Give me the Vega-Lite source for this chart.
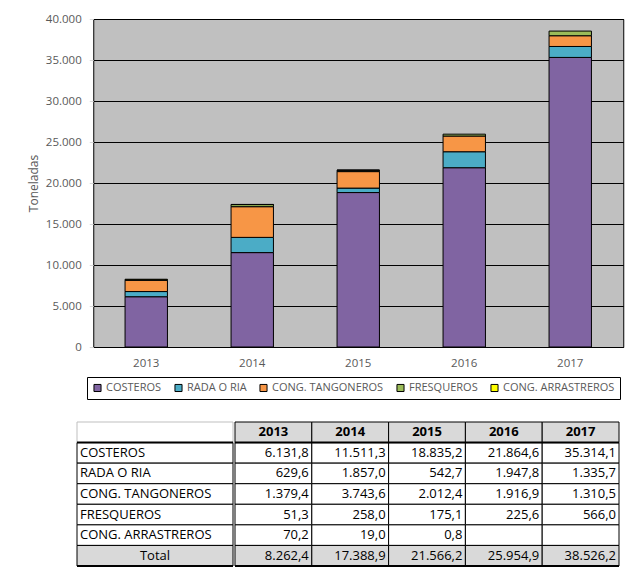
{
  "$schema": "https://vega.github.io/schema/vega-lite/v6.json",
  "background": "white",
  "padding": {"left": 26, "top": 12, "right": 0, "bottom": 0},
  "spacing": 52,
  "center": true,
  "config": {
    "font": "Open Sans",
    "locale": {"number": {"decimal": ",", "thousands": ".", "grouping": [3], "currency": ["", " €"]}},
    "axis": {"labelFont": "Open Sans", "titleFont": "Open Sans"},
    "legend": {"labelFont": "Open Sans"}
  },
  "datasets": {
    "datos": [
      {"anio": 2013, "grupo": "COSTEROS", "t": 6131.8},
      {"anio": 2013, "grupo": "RADA O RIA", "t": 629.6},
      {"anio": 2013, "grupo": "CONG. TANGONEROS", "t": 1379.4},
      {"anio": 2013, "grupo": "FRESQUEROS", "t": 51.3},
      {"anio": 2013, "grupo": "CONG. ARRASTREROS", "t": 70.2},
      {"anio": 2014, "grupo": "COSTEROS", "t": 11511.3},
      {"anio": 2014, "grupo": "RADA O RIA", "t": 1857.0},
      {"anio": 2014, "grupo": "CONG. TANGONEROS", "t": 3743.6},
      {"anio": 2014, "grupo": "FRESQUEROS", "t": 258.0},
      {"anio": 2014, "grupo": "CONG. ARRASTREROS", "t": 19.0},
      {"anio": 2015, "grupo": "COSTEROS", "t": 18835.2},
      {"anio": 2015, "grupo": "RADA O RIA", "t": 542.7},
      {"anio": 2015, "grupo": "CONG. TANGONEROS", "t": 2012.4},
      {"anio": 2015, "grupo": "FRESQUEROS", "t": 175.1},
      {"anio": 2015, "grupo": "CONG. ARRASTREROS", "t": 0.8},
      {"anio": 2016, "grupo": "COSTEROS", "t": 21864.6},
      {"anio": 2016, "grupo": "RADA O RIA", "t": 1947.8},
      {"anio": 2016, "grupo": "CONG. TANGONEROS", "t": 1916.9},
      {"anio": 2016, "grupo": "FRESQUEROS", "t": 225.6},
      {"anio": 2016, "grupo": "CONG. ARRASTREROS", "t": null},
      {"anio": 2017, "grupo": "COSTEROS", "t": 35314.1},
      {"anio": 2017, "grupo": "RADA O RIA", "t": 1335.7},
      {"anio": 2017, "grupo": "CONG. TANGONEROS", "t": 1310.5},
      {"anio": 2017, "grupo": "FRESQUEROS", "t": 566.0},
      {"anio": 2017, "grupo": "CONG. ARRASTREROS", "t": null}
    ],
    "totales": [
      {"anio": 2013, "t": 8262.4},
      {"anio": 2014, "t": 17388.9},
      {"anio": 2015, "t": 21566.2},
      {"anio": 2016, "t": 25954.9},
      {"anio": 2017, "t": 38526.2}
    ]
  },
  "vconcat": [
    {
      "width": 530,
      "height": 328,
      "data": {"name": "datos"},
      "transform": [
        {"filter": "datum.t != null"},
        {"calculate": "indexof(['COSTEROS','RADA O RIA','CONG. TANGONEROS','FRESQUEROS','CONG. ARRASTREROS'], datum.grupo)", "as": "orden"}
      ],
      "view": {"fill": "#C0C0C0", "stroke": "black", "strokeWidth": 1},
      "mark": {"type": "bar", "stroke": "black", "strokeWidth": 1},
      "encoding": {
        "x": {
          "field": "anio", "type": "ordinal",
          "scale": {"paddingInner": 0.6, "paddingOuter": 0.3},
          "axis": {"title": null, "labelAngle": 0, "ticks": false, "domain": false, "labelPadding": 10, "labelFontSize": 11.5, "labelColor": "#595959"}
        },
        "y": {
          "field": "t", "type": "quantitative", "stack": "zero",
          "scale": {"domain": [0, 40000], "nice": false},
          "axis": {
            "title": "Toneladas", "titleFontSize": 12, "titleFontWeight": "normal", "titleColor": "#595959", "titlePadding": 5,
            "format": ",d", "values": [0, 5000, 10000, 15000, 20000, 25000, 30000, 35000, 40000],
            "grid": true, "gridColor": "black", "gridWidth": 1, "domain": false,
            "tickSize": 4, "tickColor": "#d9d9d9", "labelPadding": 8, "labelFontSize": 11.5, "labelColor": "#595959"
          }
        },
        "color": {
          "field": "grupo", "type": "nominal",
          "scale": {
            "domain": ["COSTEROS", "RADA O RIA", "CONG. TANGONEROS", "FRESQUEROS", "CONG. ARRASTREROS"],
            "range": ["#8064A2", "#4BACC6", "#F79646", "#9BBB59", "#FFFF00"]
          },
          "legend": {
            "title": null, "orient": "none", "legendX": 10, "legendY": 358, "direction": "horizontal", "columns": 5,
            "symbolType": "square", "symbolSize": 50, "symbolStrokeColor": "black", "symbolStrokeWidth": 1,
            "labelFontSize": 11, "labelColor": "#595959", "labelOffset": 3, "columnPadding": 10,
            "strokeColor": "black", "padding": 5, "fillColor": "white"
          }
        },
        "order": {"field": "orden", "type": "quantitative"}
      }
    },
    {
      "spacing": 0,
      "hconcat": [
        {
          "width": 156,
          "height": 144,
          "view": {"stroke": null},
          "layer": [
            {
              "data": {"name": "datos"},
              "transform": [{"aggregate": [{"op": "count", "as": "n"}], "groupby": ["grupo"]}],
              "mark": {"type": "rect", "fill": "white", "stroke": "black", "strokeWidth": 1},
              "encoding": {
                "x": {"datum": "l", "type": "nominal", "scale": {"paddingInner": 0, "paddingOuter": 0}, "axis": null},
                "y": {"field": "grupo", "type": "nominal", "axis": null,
                  "scale": {"domain": ["cab", "COSTEROS", "RADA O RIA", "CONG. TANGONEROS", "FRESQUEROS", "CONG. ARRASTREROS", "Total"], "paddingInner": 0, "paddingOuter": 0}}
              }
            },
            {
              "data": {"values": [{"fila": "Total"}]},
              "mark": {"type": "rect", "fill": "#D9D9D9", "stroke": "black", "strokeWidth": 1},
              "encoding": {
                "x": {"datum": "l", "type": "nominal"},
                "y": {"field": "fila", "type": "nominal"}
              }
            },
            {
              "data": {"values": [{"fila": "cab"}]},
              "mark": {"type": "rect", "fill": "white", "stroke": "#BFBFBF", "strokeWidth": 1},
              "encoding": {
                "x": {"datum": "l", "type": "nominal"},
                "y": {"field": "fila", "type": "nominal"}
              }
            },
            {
              "data": {"values": [{"fila": "COSTEROS"}]},
              "mark": {"type": "rule", "color": "black", "strokeWidth": 2},
              "encoding": {
                "y": {"field": "fila", "type": "nominal", "bandPosition": 0}
              }
            },
            {
              "data": {"values": [{"fila": "Total"}]},
              "mark": {"type": "rule", "color": "black", "strokeWidth": 2},
              "encoding": {
                "y": {"field": "fila", "type": "nominal", "bandPosition": 1}
              }
            },
            {
              "data": {"name": "datos"},
              "transform": [{"aggregate": [{"op": "count", "as": "n"}], "groupby": ["grupo"]}],
              "mark": {"type": "text", "align": "left", "dx": 3, "fontSize": 13, "color": "black"},
              "encoding": {
                "x": {"datum": "l", "type": "nominal", "bandPosition": 0},
                "y": {"field": "grupo", "type": "nominal"},
                "text": {"field": "grupo", "type": "nominal"}
              }
            },
            {
              "data": {"values": [{"fila": "Total"}]},
              "mark": {"type": "text", "align": "center", "fontSize": 13, "color": "black"},
              "encoding": {
                "x": {"datum": "l", "type": "nominal"},
                "y": {"field": "fila", "type": "nominal"},
                "text": {"field": "fila", "type": "nominal"}
              }
            }
          ]
        },
        {
          "width": 384,
          "height": 144,
          "view": {"stroke": null},
          "layer": [
            {
              "data": {"name": "datos"},
              "mark": {"type": "rect", "fill": "white", "stroke": "black", "strokeWidth": 1},
              "encoding": {
                "x": {"field": "anio", "type": "ordinal", "scale": {"paddingInner": 0, "paddingOuter": 0}, "axis": null},
                "y": {"field": "grupo", "type": "nominal", "axis": null,
                  "scale": {"domain": ["cab", "COSTEROS", "RADA O RIA", "CONG. TANGONEROS", "FRESQUEROS", "CONG. ARRASTREROS", "Total"], "paddingInner": 0, "paddingOuter": 0}}
              }
            },
            {
              "data": {"name": "totales"},
              "mark": {"type": "rect", "fill": "#D9D9D9", "stroke": "black", "strokeWidth": 1},
              "encoding": {
                "x": {"field": "anio", "type": "ordinal"},
                "y": {"datum": "Total", "type": "nominal"}
              }
            },
            {
              "data": {"name": "totales"},
              "mark": {"type": "rect", "fill": "#D9D9D9", "stroke": "black", "strokeWidth": 1},
              "encoding": {
                "x": {"field": "anio", "type": "ordinal"},
                "y": {"datum": "cab", "type": "nominal"}
              }
            },
            {
              "data": {"values": [{"fila": "COSTEROS"}]},
              "mark": {"type": "rule", "color": "black", "strokeWidth": 2},
              "encoding": {
                "y": {"field": "fila", "type": "nominal", "bandPosition": 0}
              }
            },
            {
              "data": {"values": [{"fila": "Total"}]},
              "mark": {"type": "rule", "color": "black", "strokeWidth": 2},
              "encoding": {
                "y": {"field": "fila", "type": "nominal", "bandPosition": 1}
              }
            },
            {
              "data": {"name": "datos"},
              "transform": [{"filter": "datum.t != null"}],
              "mark": {"type": "text", "align": "right", "dx": -3, "fontSize": 13, "color": "black"},
              "encoding": {
                "x": {"field": "anio", "type": "ordinal", "bandPosition": 1},
                "y": {"field": "grupo", "type": "nominal"},
                "text": {"field": "t", "type": "quantitative", "format": ",.1f"}
              }
            },
            {
              "data": {"name": "totales"},
              "mark": {"type": "text", "align": "right", "dx": -3, "fontSize": 13, "color": "black"},
              "encoding": {
                "x": {"field": "anio", "type": "ordinal", "bandPosition": 1},
                "y": {"datum": "Total", "type": "nominal"},
                "text": {"field": "t", "type": "quantitative", "format": ",.1f"}
              }
            },
            {
              "data": {"name": "totales"},
              "mark": {"type": "text", "align": "center", "fontSize": 13, "fontWeight": "bold", "color": "black"},
              "encoding": {
                "x": {"field": "anio", "type": "ordinal"},
                "y": {"datum": "cab", "type": "nominal"},
                "text": {"field": "anio", "type": "nominal"}
              }
            }
          ]
        },
        {
          "width": 20,
          "height": 144,
          "view": {"stroke": null},
          "data": {"values": []},
          "mark": "rect",
          "encoding": {}
        }
      ]
    }
  ]
}
